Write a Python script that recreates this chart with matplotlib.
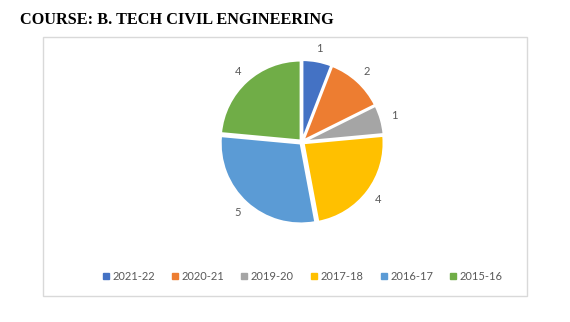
import matplotlib
matplotlib.use("Agg")
import matplotlib.pyplot as plt
from matplotlib.patches import Rectangle
from matplotlib.lines import Line2D

categories = ["2021-22", "2020-21", "2019-20", "2017-18", "2016-17", "2015-16"]
values = [1, 2, 1, 4, 5, 4]
colors = ["#4472C4", "#ED7D31", "#A5A5A5", "#FFC000", "#5B9BD5", "#70AD47"]
title = "COURSE: B. TECH CIVIL ENGINEERING"

W, H = 570, 322
fig = plt.figure(figsize=(W / 100, H / 100), dpi=100)

# chart border box
fig.patches.append(Rectangle((43 / W, 1 - 296 / H), (527 - 43) / W, (296 - 37) / H,
                             transform=fig.transFigure, fill=False,
                             edgecolor="#D9D9D9", linewidth=1.0))

fig.text(20 / W, 1 - 20 / H, title, fontsize=11.7, fontweight="bold",
         family="Liberation Serif", va="center", ha="left", color="black")

cx, cy = 302, 142
size = 200
ax = fig.add_axes([(cx - size / 2) / W, (H - cy - size / 2) / H, size / W, size / H])
wedges, texts = ax.pie(values, colors=colors, startangle=90, counterclock=False,
                       explode=[0.025] * len(values), labels=[str(v) for v in values],
                       labeldistance=1.17,
                       wedgeprops=dict(edgecolor="white", linewidth=1.5),
                       textprops=dict(color="#595959", fontsize=8, family="Lato"))
for t in texts:
    t.set_ha("center")
    t.set_va("center")
ax.set_xlim(-1.25, 1.25)
ax.set_ylim(-1.25, 1.25)
ax.set_aspect("equal")
ax.axis("off")

handles = [Line2D([], [], marker="s", linestyle="none", markersize=4,
                  markerfacecolor=c, markeredgecolor=c) for c in colors]
fig.legend(handles, categories, loc="center", bbox_to_anchor=(302 / W, 1 - 276 / H),
           ncol=6, frameon=False, prop=dict(family="Lato", size=8), labelcolor="#595959",
           handletextpad=0.2, columnspacing=1.4, handlelength=0.8)

fig.savefig("out.png", dpi=100)
